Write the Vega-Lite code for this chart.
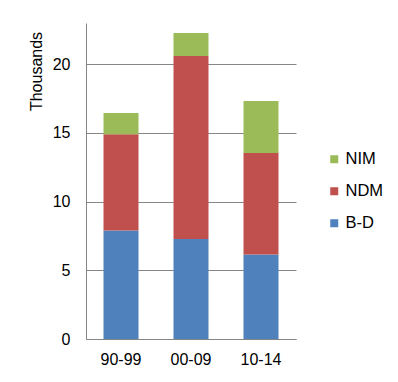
{
  "$schema": "https://vega.github.io/schema/vega-lite/v6.json",
  "autosize": {"type": "none"},
  "width": 210,
  "height": 316,
  "padding": {"left": 86, "top": 23, "right": 102, "bottom": 43},
  "background": "white",
  "config": {
    "font": "Liberation Sans",
    "view": {"stroke": null},
    "axis": {"labelFont": "Liberation Sans", "labelFontSize": 16, "labelColor": "#000000", "titleFont": "Liberation Sans", "titleFontSize": 16, "titleFontWeight": "normal", "titleColor": "#000000", "domainColor": "#868686", "gridColor": "#868686", "ticks": false}
  },
  "data": {
    "values": [
      {"period": "90-99", "series": "B-D", "value": 7.9},
      {"period": "90-99", "series": "NDM", "value": 7.0},
      {"period": "90-99", "series": "NIM", "value": 1.55},
      {"period": "00-09", "series": "B-D", "value": 7.27},
      {"period": "00-09", "series": "NDM", "value": 13.33},
      {"period": "00-09", "series": "NIM", "value": 1.68},
      {"period": "10-14", "series": "B-D", "value": 6.15},
      {"period": "10-14", "series": "NDM", "value": 7.38},
      {"period": "10-14", "series": "NIM", "value": 3.79}
    ]
  },
  "mark": {"type": "bar"},
  "encoding": {
    "x": {
      "field": "period", "type": "nominal", "sort": ["90-99", "00-09", "10-14"],
      "scale": {"paddingInner": 0.5, "paddingOuter": 0.25},
      "axis": {"title": null, "labelAngle": 0, "labelPadding": 12, "grid": false}
    },
    "y": {
      "field": "value", "type": "quantitative", "stack": "zero",
      "scale": {"domain": [0, 23], "nice": false},
      "axis": {"title": "Thousands", "values": [0, 5, 10, 15, 20], "labelPadding": 16, "grid": true, "titleX": -42, "titleY": 48, "titleAlign": "center", "titleBaseline": "bottom", "titleAngle": -90}
    },
    "color": {
      "field": "series", "type": "nominal",
      "scale": {"domain": ["NIM", "NDM", "B-D"], "range": ["#9BBB59", "#C0504D", "#4F81BD"]},
      "legend": {"title": null, "orient": "none", "legendX": 240, "legendY": 128, "symbolType": "square", "symbolSize": 64, "symbolStrokeWidth": 0, "labelFontSize": 16.5, "labelFont": "Liberation Sans", "labelColor": "#000000", "labelOffset": 3, "rowPadding": 15, "padding": 0}
    },
    "order": {"field": "series", "sort": "ascending"}
  }
}
